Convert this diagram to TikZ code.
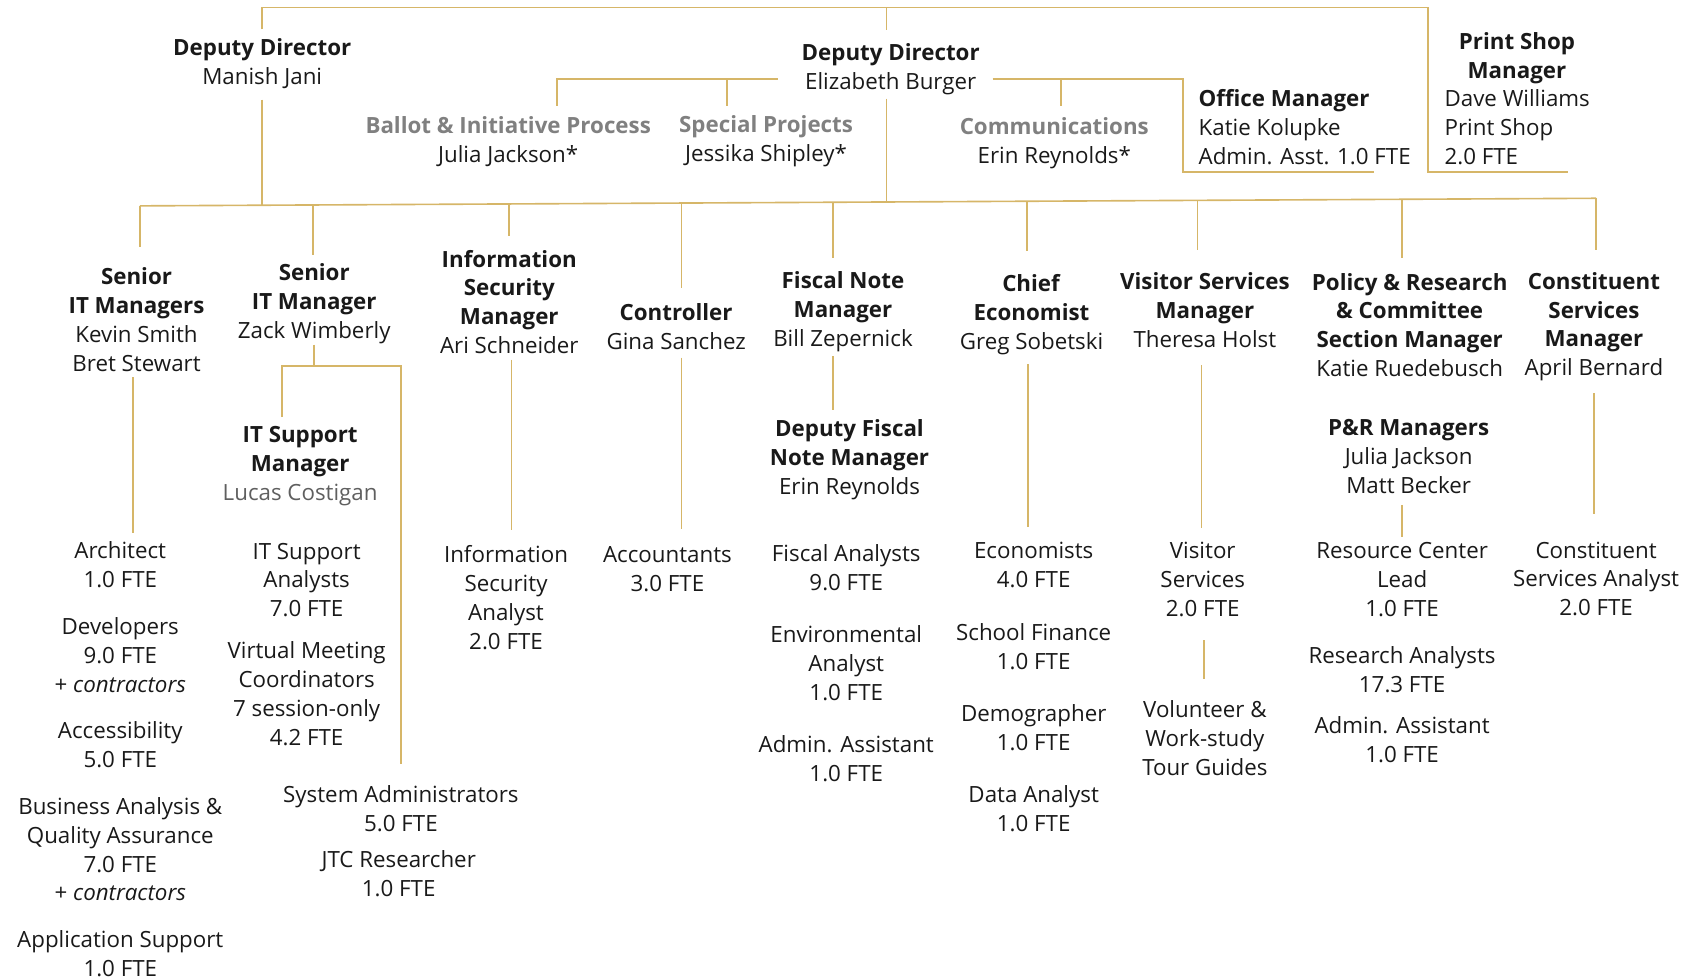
\documentclass[tikz,border=0pt]{standalone}
\usepackage{fontspec}
\setmainfont{Open Sans}
\definecolor{gold}{RGB}{214,182,104}
\definecolor{txt}{RGB}{25,25,25}
\definecolor{graytitle}{RGB}{128,128,128}
\definecolor{grayname}{RGB}{95,95,95}
\newcommand\myfs{\fontsize{20.6}{26.7}\selectfont}
\begin{document}
\begin{tikzpicture}[x=1pt,y=-1pt,
  t/.style={align=center, inner sep=0pt, font=\myfs, text=txt},
  tl/.style={align=left, inner sep=0pt, font=\myfs, text=txt, anchor=west},
  ln/.style={draw=gold, line width=1.5pt}]
\useasboundingbox (0,0) rectangle (1568,903.5);
% ---------- top level ----------
\node[t] (dm) at (242,59) {\textbf{Deputy Director}\\Manish Jani};
\node[t] (de) at (822,64) {\textbf{Deputy Director}\\Elizabeth Burger};
\node[t] (bal) at (469,130.5) {\textcolor{graytitle}{\textbf{Ballot \& Initiative Process}}\\Julia Jackson*};
\node[t] (sp) at (707,130.5) {\textcolor{graytitle}{\textbf{Special Projects}}\\Jessika Shipley*};
\node[t] (com) at (973,132) {\textcolor{graytitle}{\textbf{Communications}}\\Erin Reynolds*};
\node[tl] (om) at (1106,117.7) {\textbf{Office Manager}\\Katie Kolupke\\Admin. Asst. 1.0 FTE};
\node[t] (pst) at (1400,53.5) {\textbf{Print Shop}\\\textbf{Manager}};
\node[tl] (psb) at (1333,117.5) {Dave Williams\\Print Shop\\2.0 FTE};
% ---------- second level ----------
\node[t] (sim) at (126,295) {\textbf{Senior}\\\textbf{IT Managers}\\Kevin Smith\\Bret Stewart};
\node[t] (szw) at (290,280) {\textbf{Senior}\\\textbf{IT Manager}\\Zack Wimberly};
\node[t] (ism) at (470,278.7) {\textbf{Information}\\\textbf{Security}\\\textbf{Manager}\\Ari Schneider};
\node[t] (ctl) at (624,301.5) {\textbf{Controller}\\Gina Sanchez};
\node[t] (fnm) at (778,288) {\textbf{Fiscal Note}\\\textbf{Manager}\\Bill Zepernick};
\node[t] (ce) at (952,290.5) {\textbf{Chief}\\\textbf{Economist}\\Greg Sobetski};
\node[t] (vsm) at (1112,286.5) {\textbf{Visitor Services}\\\textbf{Manager}\\Theresa Holst};
\node[t] (pr) at (1301,300) {\textbf{Policy \& Research}\\\textbf{\& Committee}\\\textbf{Section Manager}\\Katie Ruedebusch};
\node[t] (csm) at (1471,301.5) {\textbf{Constituent}\\\textbf{Services}\\\textbf{Manager}\\April Bernard};
% ---------- third level ----------
\node[t] (itsm) at (277,430) {\textbf{IT Support}\\\textbf{Manager}\\\textcolor{grayname}{Lucas Costigan}};
\node[t] (dfnm) at (784,424.2) {\textbf{Deputy Fiscal}\\\textbf{Note Manager}\\Erin Reynolds};
\node[t] (prm) at (1300,421.7) {\textbf{P\&R Managers}\\Julia Jackson\\Matt Becker};
% ---------- staff ----------
\node[t] (arch) at (111,521) {Architect\\1.0 FTE};
\node[t] (dev) at (111,604.3) {Developers\\9.0 FTE\\+ \textit{contractors}};
\node[t] (acc) at (111,687) {Accessibility\\5.0 FTE};
\node[t] (ba) at (111,783.7) {Business Analysis \&\\Quality Assurance\\7.0 FTE\\+ \textit{contractors}};
\node[t] (aps) at (111,880) {Application Support\\1.0 FTE};
\node[t] (itsa) at (283,535.3) {IT Support\\Analysts\\7.0 FTE};
\node[t] (vmc) at (283,640) {Virtual Meeting\\Coordinators\\7 session-only\\4.2 FTE};
\node[t] (sa) at (370,746.5) {System Administrators\\5.0 FTE};
\node[t] (jtc) at (368,806.5) {JTC Researcher\\1.0 FTE};
\node[t] (isa) at (467,551.2) {Information\\Security\\Analyst\\2.0 FTE};
\node[t] (accts) at (616,525) {Accountants\\3.0 FTE};
\node[t] (fa) at (781,524) {Fiscal Analysts\\9.0 FTE};
\node[t] (env) at (781,612) {Environmental\\Analyst\\1.0 FTE};
\node[t] (adm1) at (781,700.5) {Admin. Assistant\\1.0 FTE};
\node[t] (eco) at (954,521.5) {Economists\\4.0 FTE};
\node[t] (sf) at (954,596.5) {School Finance\\1.0 FTE};
\node[t] (dem) at (954,671.5) {Demographer\\1.0 FTE};
\node[t] (da) at (954,746.5) {Data Analyst\\1.0 FTE};
\node[t] (vs) at (1110,535) {Visitor\\Services\\2.0 FTE};
\node[t] (vol) at (1112,681) {Volunteer \&\\Work-study\\Tour Guides};
\node[t] (rcl) at (1294,534.7) {Resource Center\\Lead\\1.0 FTE};
\node[t] (ra) at (1294,618) {Research Analysts\\17.3 FTE};
\node[t] (adm2) at (1294,682.5) {Admin. Assistant\\1.0 FTE};
\node[t] (csa) at (1473,534.3) {Constituent\\Services Analyst\\2.0 FTE};
% ---------- junction coordinates ----------
\coordinate (dmT) at (242,27);
\coordinate (topL) at (242,7);
\coordinate (deT) at (818,28);
\coordinate (topM) at (818,7);
\coordinate (topR) at (1318,7);
\coordinate (psC) at (1318,159);
\coordinate (psE) at (1447,159);
\coordinate (dmB) at (242,92);
\coordinate (dmJ) at (242,189.4);
\coordinate (deB) at (818,91);
\coordinate (deJ) at (818,186.4);
\coordinate (deL) at (718,73);
\coordinate (balJ) at (514,73);
\coordinate (balT) at (514,98);
\coordinate (spJ) at (671,73);
\coordinate (spT) at (671,98);
\coordinate (deR) at (916,73);
\coordinate (comJ) at (979,73);
\coordinate (comT) at (979,98);
\coordinate (omJ) at (1092,73);
\coordinate (omC) at (1092,159);
\coordinate (omE) at (1268,159);
\coordinate (barL) at (129,190);
\coordinate (barR) at (1473,183);
% drops from main bar
\coordinate (b1) at (129,190);    \coordinate (e1) at (129,228);
\coordinate (b2) at (289,189.2);  \coordinate (e2) at (289,235);
\coordinate (b3) at (470,188.2);  \coordinate (e3) at (470,218);
\coordinate (b4) at (629,187.4);  \coordinate (e4) at (629,266);
\coordinate (b5) at (769,186.7);  \coordinate (e5) at (769,238);
\coordinate (b6) at (948,185.7);  \coordinate (e6) at (948,232);
\coordinate (b7) at (1105,184.9); \coordinate (e7) at (1105,231);
\coordinate (b8) at (1294,183.9); \coordinate (e8) at (1294,238);
\coordinate (b9) at (1473,183);   \coordinate (e9) at (1473,231);
% lower connectors
\coordinate (simB) at (123,348);  \coordinate (archT) at (123,492);
\coordinate (szwB) at (290,318);  \coordinate (szwJ) at (290,338);
\coordinate (itsJ) at (260,338);  \coordinate (itsT) at (260,385);
\coordinate (saJ) at (370,338);   \coordinate (saT) at (370,705);
\coordinate (ismB) at (472,332);  \coordinate (isaT) at (472,489);
\coordinate (ctlB) at (629,330);  \coordinate (accT) at (629,488);
\coordinate (fnmB) at (769,329);  \coordinate (dfT) at (769,378);
\coordinate (ceB) at (949,336);   \coordinate (ecoT) at (949,486);
\coordinate (vsmB) at (1109,337); \coordinate (vsT) at (1109,487);
\coordinate (vsB) at (1111,591);  \coordinate (volT) at (1111,627);
\coordinate (prmB) at (1294,466); \coordinate (rclT) at (1294,496);
\coordinate (csmB) at (1471,363); \coordinate (csaT) at (1471,474);
% ---------- connectors ----------
\draw[ln] (dmT) -- (topL) -- (topR) -- (psC) -- (psE);
\draw[ln] (topM) -- (deT);
\draw[ln] (dmB) -- (dmJ);
\draw[ln] (deB) -- (deJ);
\draw[ln] (deL) -- (balJ) -- (balT);
\draw[ln] (spJ) -- (spT);
\draw[ln] (deR) -- (omJ) -- (omC) -- (omE);
\draw[ln] (comJ) -- (comT);
\draw[ln] (barL) -- (barR);
\foreach \i in {1,...,9} {\draw[ln] (b\i) -- (e\i);}
\draw[ln] (simB) -- (archT);
\draw[ln] (szwB) -- (szwJ);
\draw[ln] (itsT) -- (itsJ) -- (saJ) -- (saT);
\draw[ln] (ismB) -- (isaT);
\draw[ln] (ctlB) -- (accT);
\draw[ln] (fnmB) -- (dfT);
\draw[ln] (ceB) -- (ecoT);
\draw[ln] (vsmB) -- (vsT);
\draw[ln] (vsB) -- (volT);
\draw[ln] (prmB) -- (rclT);
\draw[ln] (csmB) -- (csaT);
\end{tikzpicture}
\end{document}
